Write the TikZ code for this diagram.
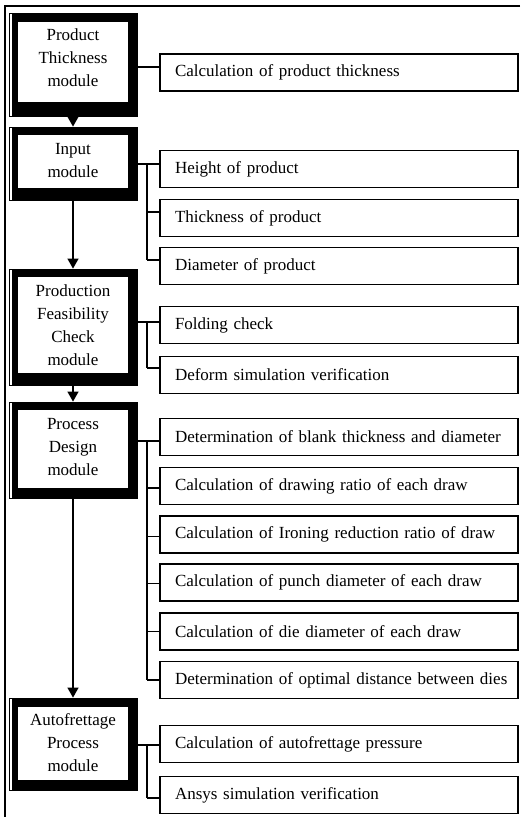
\documentclass[tikz,border=0pt]{standalone}
\usepackage{fontspec}
\setmainfont{Liberation Serif}
\usetikzlibrary{arrows.meta}
\begin{document}
\begin{tikzpicture}[x=1pt,y=-1pt,
  every node/.style={font=\fontsize{17}{23}\selectfont},
  modframe/.style={draw, line width=0.8pt, inner sep=0pt, minimum width=128pt},
  modtext/.style={align=center, inner sep=0pt},
  rbox/.style={draw, line width=1.2pt, minimum width=358pt, minimum height=37pt, text width=328pt, inner xsep=15pt, inner ysep=0pt, align=left},
  conn/.style={line width=1.2pt},
  flow/.style={line width=1.3pt, -{Triangle[width=11pt,length=10pt]}}
]
\useasboundingbox (0,0) rectangle (520,817);
% outer frame
\draw[line width=1.2pt] (520,6) -- (5,6) -- (5,817);

% module boxes
\node[modframe, minimum height=103pt] (m1) at (73,64.5) {};
\fill ([shift={(3,1)}]m1.north west) rectangle (m1.south east);
\fill[white] ([shift={(9,9)}]m1.north west) rectangle ([shift={(-9,-14)}]m1.south east);
\node[modtext] (t1) at (73,58) {Product\\Thickness\\module};

\node[modframe, minimum height=73pt] (m2) at (73,163.5) {};
\fill ([shift={(3,1)}]m2.north west) rectangle (m2.south east);
\fill[white] ([shift={(9,8)}]m2.north west) rectangle ([shift={(-9,-12)}]m2.south east);
\node[modtext] (t2) at (73,160.5) {Input\\module};

\node[modframe, minimum height=116pt] (m3) at (73,327) {};
\fill ([shift={(3,1)}]m3.north west) rectangle (m3.south east);
\fill[white] ([shift={(9,8)}]m3.north west) rectangle ([shift={(-9,-12)}]m3.south east);
\node[modtext] (t3) at (73,325) {Production\\Feasibility\\Check\\module};

\node[modframe, minimum height=96pt] (m4) at (73,450) {};
\fill ([shift={(3,1)}]m4.north west) rectangle (m4.south east);
\fill[white] ([shift={(9,8)}]m4.north west) rectangle ([shift={(-9,-10)}]m4.south east);
\node[modtext] (t4) at (73,447.5) {Process\\Design\\module};

\node[modframe, minimum height=92pt] (m5) at (73,744) {};
\fill ([shift={(3,1)}]m5.north west) rectangle (m5.south east);
\fill[white] ([shift={(9,9)}]m5.north west) rectangle ([shift={(-9,-10)}]m5.south east);
\node[modtext] (t5) at (73,743) {Autofrettage\\Process\\module};

% flow arrows
\draw[flow] (m1.south) -- (m2.north);
\draw[flow] (m2.south) -- (m3.north);
\draw[flow] (m3.south) -- (m4.north);
\draw[flow] (m4.south) -- (m5.north);

% right boxes
\node[rbox] (r1) at (339,72.5) {\mbox{Calculation of product thickness}};
\node[rbox] (r2) at (339,169) {\mbox{Height of product}};
\node[rbox] (r3) at (339,218) {\mbox{Thickness of product}};
\node[rbox] (r4) at (339,266) {\mbox{Diameter of product}};
\node[rbox] (r5) at (339,325) {\mbox{Folding check}};
\node[rbox] (r6) at (339,375) {\mbox{Deform simulation verification}};
\node[rbox] (r7) at (339,437) {\mbox{Determination of blank thickness and diameter}};
\node[rbox] (r8) at (339,486) {\mbox{Calculation of drawing ratio of each draw}};
\node[rbox] (r9) at (339,534.5) {\mbox{Calculation of Ironing reduction ratio of draw}};
\node[rbox] (r10) at (339,582.5) {\mbox{Calculation of punch diameter of each draw}};
\node[rbox] (r11) at (339,631.5) {\mbox{Calculation of die diameter of each draw}};
\node[rbox] (r12) at (339,680) {\mbox{Determination of optimal distance between dies}};
\node[rbox] (r13) at (339,744) {\mbox{Calculation of autofrettage pressure}};
\node[rbox] (r14) at (339,795) {\mbox{Ansys simulation verification}};

% branch points
\coordinate (tx) at (147,0);
\coordinate (b1) at ([yshift=5.5pt]r1.west);
\coordinate (b2) at ([yshift=5pt]r2.west);
\coordinate (b3) at ([yshift=6pt]r3.west);
\coordinate (b4) at ([yshift=6pt]r4.west);
\coordinate (b5) at ([yshift=3pt]r5.west);
\coordinate (b6) at ([yshift=7pt]r6.west);
\coordinate (b7) at ([yshift=-4pt]r7.west);
\coordinate (b8) at ([yshift=-2pt]r8.west);
\coordinate (b9) at ([yshift=-2pt]r9.west);
\coordinate (b10) at ([yshift=-1pt]r10.west);
\coordinate (b11) at (r11.west);
\coordinate (b12) at (r12.west);
\coordinate (b13) at ([yshift=-1pt]r13.west);
\coordinate (b14) at ([yshift=-3pt]r14.west);

% connectors
\draw[conn] (m1.east |- b1) -- (b1);

\draw[conn] (m2.east |- b2) -- (b2);
\draw[conn] (tx |- b2) -- (tx |- b4);
\draw[conn] (tx |- b3) -- (b3);
\draw[conn] (tx |- b4) -- (b4);

\draw[conn] (m3.east |- b5) -- (b5);
\draw[conn] (tx |- b5) -- (tx |- b6);
\draw[conn] (tx |- b6) -- (b6);

\draw[conn] (m4.east |- b7) -- (b7);
\draw[conn] (tx |- b7) -- (tx |- b12);
\draw[conn] (tx |- b8) -- (b8);
\draw[conn] (tx |- b9) -- (b9);
\draw[conn] (tx |- b10) -- (b10);
\draw[conn] (tx |- b11) -- (b11);
\draw[conn] (tx |- b12) -- (b12);

\draw[conn] (m5.east |- b13) -- (b13);
\draw[conn] (tx |- b13) -- (tx |- b14);
\draw[conn] (tx |- b14) -- (b14);
\end{tikzpicture}
\end{document}
